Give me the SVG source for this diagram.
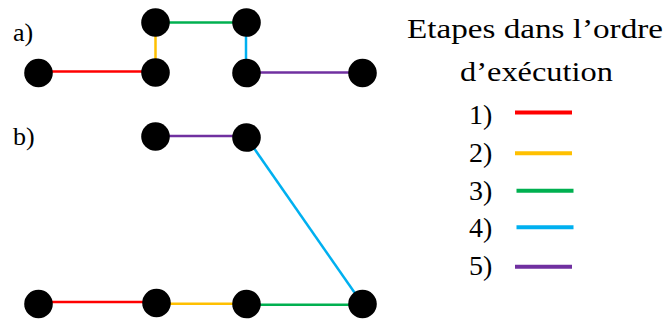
<svg xmlns="http://www.w3.org/2000/svg" width="669" height="322" viewBox="0 0 669 322">
<style>
.n{fill:#000}
.e{stroke-width:2.5;fill:none}
.lg{stroke-width:4;fill:none}
.t{font-family:"Liberation Serif","DejaVu Serif",serif;fill:#000}
.r{stroke:#FF0000}.y{stroke:#FFC000}.g{stroke:#00B050}.b{stroke:#00B0F0}.p{stroke:#7030A0}
</style>
<rect width="669" height="322" fill="#fff"/>
<g id="connectors">
<line class="e r" x1="38.5" y1="71.5" x2="155.5" y2="71.5"/>
<line class="e y" x1="155.5" y1="22.5" x2="155.5" y2="72.5"/>
<line class="e g" x1="155.5" y1="22.5" x2="246.5" y2="22.5"/>
<line class="e b" x1="246" y1="22.5" x2="246" y2="73"/>
<line class="e p" x1="246.5" y1="72.5" x2="362.5" y2="72.5"/>
<line class="e p" x1="155.5" y1="136" x2="246.5" y2="136"/>
<line class="e b" x1="246.5" y1="137.5" x2="362.5" y2="304"/>
<line class="e r" x1="38.5" y1="302" x2="156.5" y2="302"/>
<line class="e y" x1="156.5" y1="303.7" x2="246.5" y2="303.7"/>
<line class="e g" x1="246.5" y1="304.7" x2="362.5" y2="304.7"/>
</g>
<g id="nodes-a">
<circle id="a1" class="n" cx="38.5" cy="73" r="14.3"/>
<circle id="a2" class="n" cx="155.5" cy="72.5" r="14.3"/>
<circle id="a3" class="n" cx="155.5" cy="22.5" r="14.3"/>
<circle id="a4" class="n" cx="246.5" cy="22.5" r="14.3"/>
<circle id="a5" class="n" cx="246.5" cy="73" r="14.3"/>
<circle id="a6" class="n" cx="362.5" cy="73" r="14.3"/>
</g>
<g id="nodes-b">
<circle id="b1" class="n" cx="155.5" cy="136.5" r="14.3"/>
<circle id="b2" class="n" cx="246.5" cy="137.5" r="14.3"/>
<circle id="b3" class="n" cx="38.5" cy="304" r="14.3"/>
<circle id="b4" class="n" cx="156.5" cy="303" r="14.3"/>
<circle id="b5" class="n" cx="246.5" cy="304" r="14.3"/>
<circle id="b6" class="n" cx="362.5" cy="304" r="14.3"/>
</g>
<g id="labels">
<text class="t" x="13" y="41" font-size="26">a)</text>
<text class="t" x="13" y="145" font-size="26">b)</text>
</g>
<g id="legend">
<text class="t" x="407" y="38.3" font-size="28" textLength="256" lengthAdjust="spacingAndGlyphs">Etapes dans l’ordre</text>
<text class="t" x="460" y="80.5" font-size="28" textLength="153" lengthAdjust="spacingAndGlyphs">d’exécution</text>
<text class="t" x="469" y="124.3" font-size="28">1)</text>
<text class="t" x="469" y="161.7" font-size="28">2)</text>
<text class="t" x="469" y="199.5" font-size="28">3)</text>
<text class="t" x="469" y="237" font-size="28">4)</text>
<text class="t" x="469" y="274.5" font-size="28">5)</text>
<line class="lg r" x1="515" y1="112.5" x2="572" y2="112.5"/>
<line class="lg y" x1="515" y1="153.3" x2="572" y2="153.3"/>
<line class="lg g" x1="516.5" y1="190.7" x2="573.5" y2="190.7"/>
<line class="lg b" x1="516.5" y1="227.3" x2="573.5" y2="227.3"/>
<line class="lg p" x1="515" y1="266.7" x2="572" y2="266.7"/>
</g>
</svg>
